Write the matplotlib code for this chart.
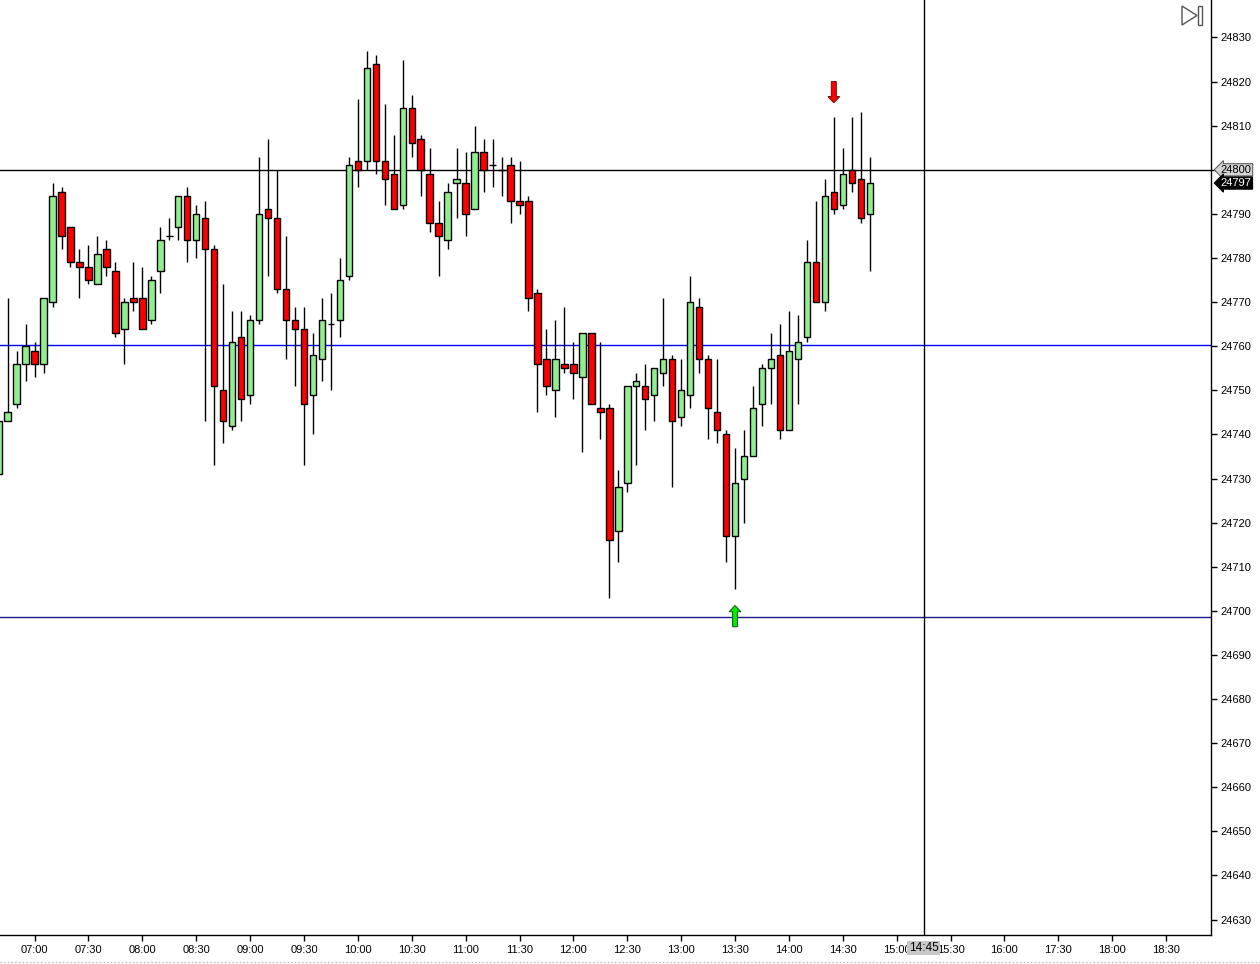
import numpy as np
import matplotlib
matplotlib.use("Agg")
import matplotlib.pyplot as plt
import matplotlib.transforms as mtransforms
from matplotlib.patches import Polygon, Rectangle, FancyArrow
from matplotlib.lines import Line2D

plt.rcParams['font.family'] = ['Liberation Sans', 'DejaVu Sans']

# 5-minute bars, first bar 06:40, bar index 4 = 07:00
opens = [24731, 24743, 24747, 24756, 24759, 24756, 24770, 24795, 24787, 24779,
         24778, 24774, 24782, 24777, 24764, 24771, 24771, 24766, 24777, 24785,
         24787, 24794, 24784, 24789, 24782, 24750, 24742, 24762, 24749, 24766,
         24791, 24789, 24773, 24766, 24764, 24749, 24757, 24765, 24766, 24776,
         24802, 24802, 24824, 24802, 24799, 24792, 24814, 24807, 24799, 24788,
         24784, 24797, 24797, 24791, 24804, 24801, 24800, 24801, 24793, 24793,
         24772, 24757, 24750, 24756, 24756, 24753, 24763, 24746, 24746, 24718,
         24729, 24751, 24751, 24749, 24754, 24757, 24744, 24749, 24769, 24757,
         24745, 24740, 24717, 24730, 24735, 24747, 24755, 24758, 24741, 24757,
         24762, 24779, 24770, 24795, 24792, 24800, 24798, 24790]
closes = [24743, 24745, 24756, 24760, 24756, 24771, 24794, 24785, 24779, 24778,
          24775, 24781, 24778, 24763, 24770, 24770, 24764, 24775, 24784, 24785,
          24794, 24784, 24790, 24782, 24751, 24743, 24761, 24748, 24766, 24790,
          24789, 24773, 24766, 24764, 24747, 24758, 24766, 24765, 24775, 24801,
          24800, 24823, 24802, 24798, 24791, 24814, 24806, 24800, 24788, 24785,
          24795, 24798, 24790, 24804, 24800, 24801, 24800, 24793, 24792, 24771,
          24756, 24751, 24757, 24755, 24754, 24763, 24747, 24745, 24716, 24728,
          24751, 24752, 24748, 24755, 24757, 24743, 24750, 24770, 24757, 24746,
          24741, 24717, 24729, 24735, 24746, 24755, 24757, 24741, 24759, 24761,
          24779, 24770, 24794, 24791, 24799, 24797, 24789, 24797]
highs = [24743, 24771, 24759, 24765, 24761, 24771, 24797, 24796, 24787, 24782,
         24783, 24785, 24784, 24779, 24771, 24779, 24778, 24776, 24787, 24789,
         24794, 24796, 24792, 24793, 24783, 24774, 24768, 24768, 24767, 24803,
         24807, 24800, 24785, 24769, 24769, 24763, 24771, 24772, 24780, 24803,
         24816, 24827, 24826, 24815, 24808, 24825, 24817, 24808, 24805, 24793,
         24797, 24805, 24804, 24810, 24807, 24807, 24803, 24803, 24802, 24794,
         24773, 24764, 24766, 24769, 24761, 24763, 24763, 24761, 24747, 24732,
         24751, 24754, 24756, 24755, 24771, 24758, 24757, 24776, 24771, 24758,
         24757, 24741, 24737, 24741, 24751, 24756, 24763, 24765, 24768, 24767,
         24784, 24793, 24798, 24812, 24805, 24812, 24813, 24803]
lows = [24731, 24743, 24746, 24752, 24753, 24754, 24769, 24782, 24778, 24771,
        24774, 24774, 24776, 24762, 24756, 24768, 24764, 24765, 24772, 24784,
        24784, 24779, 24780, 24743, 24733, 24738, 24741, 24743, 24747, 24765,
        24776, 24772, 24757, 24751, 24733, 24740, 24752, 24750, 24762, 24775,
        24796, 24800, 24799, 24792, 24791, 24791, 24803, 24794, 24786, 24776,
        24782, 24789, 24785, 24791, 24795, 24796, 24794, 24788, 24790, 24768,
        24745, 24749, 24744, 24754, 24748, 24736, 24747, 24739, 24703, 24711,
        24727, 24733, 24741, 24743, 24751, 24728, 24742, 24746, 24754, 24739,
        24738, 24711, 24705, 24720, 24735, 24742, 24747, 24739, 24741, 24747,
        24761, 24770, 24768, 24790, 24791, 24795, 24788, 24777]

tick_labels = ['07:00', '07:30', '08:00', '08:30', '09:00', '09:30', '10:00', '10:30',
               '11:00', '11:30', '12:00', '12:30', '13:00', '13:30', '14:00', '14:30',
               '15:00', '15:30', '16:00', '17:30', '18:00', '18:30']
tick_pos = [0, 6, 12, 18, 24, 30, 36, 42, 48, 54, 60, 66, 72, 78, 84, 90,
            96, 102, 108, 114, 120, 126]

level_black = 24800
level_blue = 24760.3
level_low = 24698.5
cursor_pos = 99
buy_bar = 82
sell_bar = 93

o = np.array(opens, dtype=float)
c = np.array(closes, dtype=float)
h = np.array(highs, dtype=float)
l = np.array(lows, dtype=float)
x = np.arange(len(o)) - 4

fig = plt.figure(figsize=(12.6, 9.64), dpi=100)
ax = fig.add_axes([0.0, 1 - 935 / 964, 1211 / 1260, 935 / 964])
ax.set_xlim(-3.85, 131.0)
ax.set_ylim(24626.5, 24838.5)

# level lines
ax.axhline(level_black, color='black', lw=1, zorder=1)
ax.axhline(level_blue, color='#0000ff', lw=1, zorder=1)
ax.axhline(level_low, color='#1a1a8c', lw=1, zorder=1)
ax.axvline(cursor_pos, color='black', lw=1, zorder=1)

# candles
ax.vlines(x, l, h, color='black', lw=1, zorder=2)
up = c >= o
colors = np.where(up, '#90ee90', '#ff0000')
ax.bar(x, np.abs(c - o), bottom=np.minimum(o, c), width=0.72, color=colors,
       edgecolor='black', linewidth=1, zorder=3)

# signal arrows
ax.add_patch(FancyArrow(x[buy_bar], 24696.4, 0, 4.8, width=0.55, head_width=1.3,
                        head_length=1.4, length_includes_head=True,
                        fc='#00ee00', ec='#1f5f1f', lw=0.8, zorder=4))
ax.add_patch(FancyArrow(x[sell_bar], 24820.0, 0, -4.8, width=0.55, head_width=1.3,
                        head_length=1.4, length_includes_head=True,
                        fc='#ff0000', ec='#7f1010', lw=0.8, zorder=4))

# axes look
for s in ['top', 'left']:
    ax.spines[s].set_visible(False)
ax.spines['right'].set_linewidth(1)
ax.spines['bottom'].set_linewidth(1)
ax.yaxis.tick_right()
ax.set_yticks(np.arange(24630, 24831, 10))
ax.set_xticks(tick_pos)
ax.set_xticklabels(tick_labels)
ax.tick_params(axis='both', direction='out', length=4, width=1, labelsize=8,
               colors='black')
ax.tick_params(axis='y', pad=3)
ax.tick_params(axis='x', pad=3)

# last / marker price tags
trans = mtransforms.blended_transform_factory(ax.transAxes, ax.transData)
ax.text(1.008, level_black, '24800', transform=trans, ha='left', va='center',
        fontsize=8, color='black',
        bbox=dict(boxstyle='larrow,pad=0.1', fc='#d4d4d4', ec='#606060', lw=0.8))
ax.text(1.008, closes[-1], str(closes[-1]), transform=trans, ha='left',
        va='center', fontsize=8, color='white',
        bbox=dict(boxstyle='larrow,pad=0.1', fc='black', ec='black', lw=0.8))

# cursor time tag
transx = mtransforms.blended_transform_factory(ax.transData, ax.transAxes)
ax.text(cursor_pos, -0.0139, '14:45', transform=transx, ha='center', va='center',
        fontsize=8.5, color='black',
        bbox=dict(boxstyle='square,pad=0.12', fc='#c8c8c8', ec='none'))

# icon top right
fig.add_artist(Polygon([(1182 / 1260, 1 - 6 / 964), (1182 / 1260, 1 - 25 / 964),
                        (1197 / 1260, 1 - 15.5 / 964)], closed=True,
                       transform=fig.transFigure, fc='white', ec='#555555', lw=1))
fig.add_artist(Rectangle((1198 / 1260, 1 - 25 / 964), 4 / 1260, 19 / 964,
                         transform=fig.transFigure, fc='white', ec='#555555', lw=1))

# dotted bottom border
fig.add_artist(Line2D([0, 1], [1 - 962 / 964, 1 - 962 / 964], transform=fig.transFigure,
                      color='#bbbbbb', lw=1, ls=':'))

fig.savefig('out.png', dpi=100)
